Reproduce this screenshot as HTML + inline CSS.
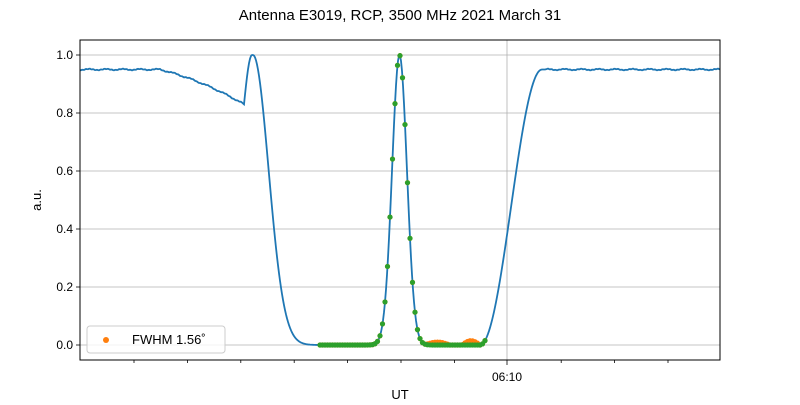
<!DOCTYPE html>
<html><head><meta charset="utf-8"><style>
body{margin:0;background:#fff}
text{font-family:"Liberation Sans","DejaVu Sans",sans-serif}
</style></head><body>
<svg id="s" width="800" height="400" xmlns="http://www.w3.org/2000/svg">
<rect width="800" height="400" fill="#fff"/>
<text x="400" y="20" font-size="15" text-anchor="middle">Antenna E3019, RCP, 3500 MHz 2021 March 31</text>
<g stroke="#b0b0b0" stroke-width="0.8">
<line x1="80" x2="720" y1="345" y2="345"/><line x1="80" x2="720" y1="287" y2="287"/>
<line x1="80" x2="720" y1="229" y2="229"/><line x1="80" x2="720" y1="171" y2="171"/>
<line x1="80" x2="720" y1="113" y2="113"/><line x1="80" x2="720" y1="55" y2="55"/>
<line x1="507" x2="507" y1="40" y2="360"/>
</g>
<g id="curves"></g>
<rect x="80" y="40" width="640" height="320" fill="none" stroke="#000" stroke-width="1"/>
<g stroke="#000" stroke-width="0.8" id="ticks">
<line x1="80" x2="76" y1="345" y2="345"/><line x1="80" x2="76" y1="287" y2="287"/>
<line x1="80" x2="76" y1="229" y2="229"/><line x1="80" x2="76" y1="171" y2="171"/>
<line x1="80" x2="76" y1="113" y2="113"/><line x1="80" x2="76" y1="55" y2="55"/>
<line x1="507" x2="507" y1="360" y2="365"/>
</g>
<g font-size="12" text-anchor="end">
<text x="73" y="349">0.0</text><text x="73" y="291">0.2</text><text x="73" y="233">0.4</text>
<text x="73" y="175">0.6</text><text x="73" y="117">0.8</text><text x="73" y="59">1.0</text>
</g>
<text x="507" y="381" font-size="12" text-anchor="middle">06:10</text>
<text x="400" y="399" font-size="13" text-anchor="middle">UT</text>
<text x="41" y="200" font-size="13" text-anchor="middle" transform="rotate(-90 41 200)">a.u.</text>
<rect x="87" y="326" width="138" height="27" rx="3" fill="#fff" fill-opacity="0.8" stroke="#ccc"/>
<circle cx="106" cy="340" r="3" fill="#ff7f0e"/>
<text x="132" y="344" font-size="13">FWHM 1.56˚</text>
</svg>
<script>
var Y=v=>345-v*290, g=document.getElementById('curves'), tk=document.getElementById('ticks');
for(var x=134;x<720;x+=53.4){if(Math.abs(x-507)<5)continue;var l=document.createElementNS('http://www.w3.org/2000/svg','line');l.setAttribute('x1',x);l.setAttribute('x2',x);l.setAttribute('y1',360);l.setAttribute('y2',363);tk.appendChild(l);}
function f(x){
 var v;
 if(x<160)v=0.95;
 else if(x<244){var t=(x-160)/84;v=0.95-0.12*(0.6*t+0.4*t*t);}
 else if(x<252)v=0.83+0.17*Math.sin((x-244)/8*Math.PI/2);
 else if(x<253)v=1;
 else if(x<320)v=Math.exp(-Math.pow((x-253)/22,2));
 else if(x<480)v=Math.exp(-Math.pow((x-399.5)/10.5,2));
 else if(x<542){var t=(x-480)/62;v=0.95*(1-Math.cos(Math.PI*t))/2;}
 else v=0.95;
 return v;
}
var d='';for(var x=80;x<=720;x+=1){var n=(x<244||x>545)?(Math.sin(x*0.37)*0.002+Math.sin(x*1.7)*0.001):0;d+=(x==80?'M':'L')+x+','+Y(f(x)+n).toFixed(2);}
var p=document.createElementNS('http://www.w3.org/2000/svg','path');p.setAttribute('d',d);p.setAttribute('fill','none');p.setAttribute('stroke','#1f77b4');p.setAttribute('stroke-width','1.8');g.appendChild(p);
function dot(x,v,c){var e=document.createElementNS('http://www.w3.org/2000/svg','circle');e.setAttribute('cx',x);e.setAttribute('cy',Y(v));e.setAttribute('r',2.6);e.setAttribute('fill',c);g.appendChild(e);}
for(var x=320;x<=485;x+=2.5){var b=f(x);var o=b;if(x>425&&x<450)o+=0.01*Math.sin((x-425)/25*Math.PI);if(x>462&&x<480)o+=0.015*Math.sin((x-462)/18*Math.PI);dot(x,o,'#ff7f0e');}
for(var x=320;x<=485;x+=2.5){dot(x,f(x),'#2ca02c');}
</script>
</body></html>
